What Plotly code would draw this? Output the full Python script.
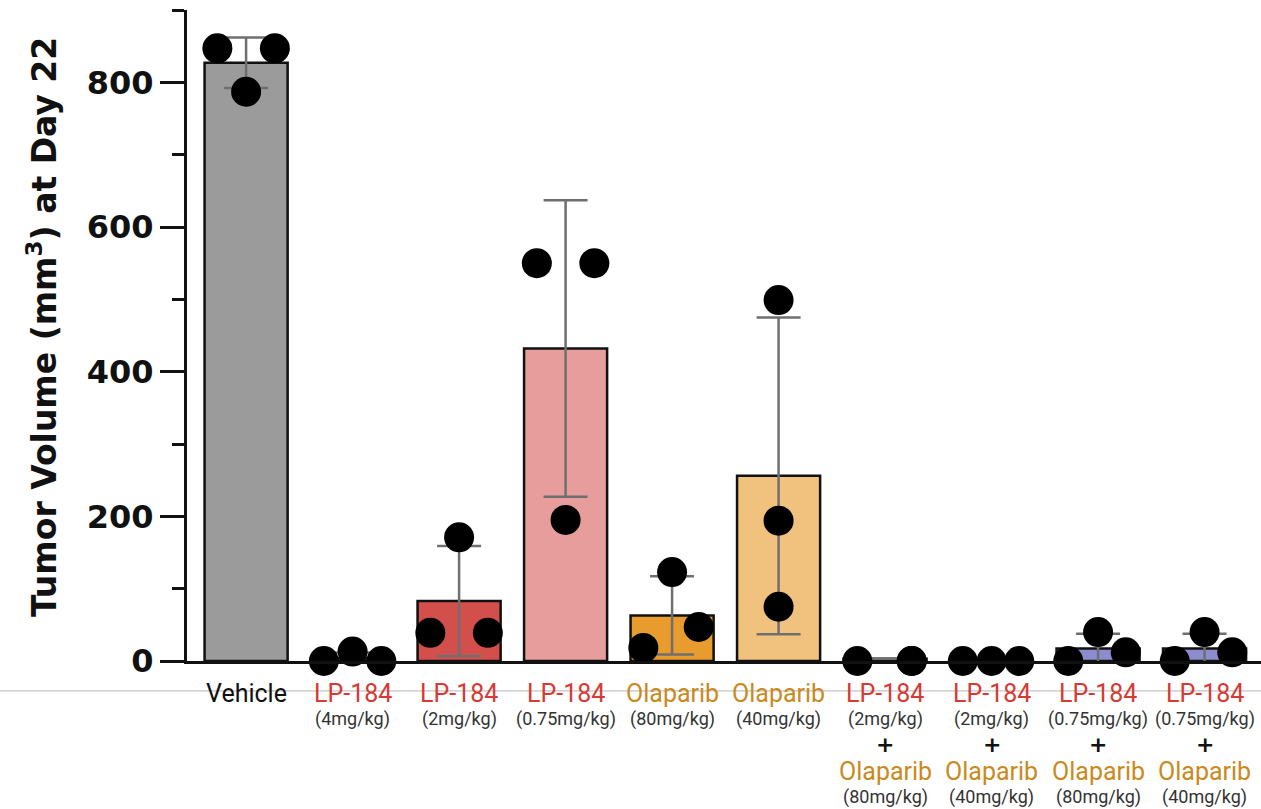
import numpy as np
import plotly.graph_objects as go

# Group names, doses and colours
drug1 = ["Vehicle", "LP-184", "LP-184", "LP-184", "Olaparib", "Olaparib",
         "LP-184", "LP-184", "LP-184", "LP-184"]
dose1 = ["", "(4mg/kg)", "(2mg/kg)", "(0.75mg/kg)", "(80mg/kg)", "(40mg/kg)",
         "(2mg/kg)", "(2mg/kg)", "(0.75mg/kg)", "(0.75mg/kg)"]
drug2 = ["", "", "", "", "", "", "Olaparib", "Olaparib", "Olaparib", "Olaparib"]
dose2 = ["", "", "", "", "", "", "(80mg/kg)", "(40mg/kg)", "(80mg/kg)", "(40mg/kg)"]

# Mean tumour volume and SD per group (mm^3)
means = [827, 4.3, 83, 432, 63, 256, 3, 0, 17.3, 17.3]
sds = [35, 7.5, 76, 205, 54, 219, 0, 0, 20.5, 20.5]

# Individual animals per group
points = [
    [847, 847, 787],
    [0, 13, 0],
    [39, 171, 39],
    [550, 195, 550],
    [18, 123, 47],
    [499, 194, 75],
    [0, 0, 0],
    [0, 0, 0],
    [0, 40, 12],
    [0, 40, 12],
]
# horizontal spread of the dots inside each bar
spread = [
    [-0.27, 0.27, 0.0],
    [-0.27, 0.0, 0.27],
    [-0.27, 0.0, 0.27],
    [-0.27, 0.0, 0.27],
    [-0.27, 0.0, 0.25],
    [0.0, 0.0, 0.0],
    [-0.26, 0.25, 0.25],
    [-0.27, 0.0, 0.26],
    [-0.28, 0.0, 0.26],
    [-0.28, 0.0, 0.26],
]

bar_colors = ["#9b9b9b", "#b83a36", "#d34f4b", "#e69d9c", "#e89c2e", "#f1c27d",
              "#8c8ccf", "#8c8ccf", "#8c8ccf", "#8c8ccf"]
drug_color = {"Vehicle": "#111111", "LP-184": "#d63a34", "Olaparib": "#c98a1e"}

x = np.arange(len(means))

fig = go.Figure()
fig.add_trace(go.Bar(
    x=x, y=means, width=0.78,
    marker=dict(color=bar_colors, line=dict(color="#111111", width=2.5)),
    error_y=dict(type="data", array=sds, visible=True, color="#6f6f6f",
                 thickness=2.5, width=22),
    showlegend=False,
))

px_, py_ = [], []
for i, (vals, offs) in enumerate(zip(points, spread)):
    for v, o in zip(vals, offs):
        px_.append(i + o)
        py_.append(v)
fig.add_trace(go.Scatter(
    x=px_, y=py_, mode="markers",
    marker=dict(color="black", size=30, line=dict(width=0)),
    cliponaxis=False, showlegend=False,
))

# multi-line category labels under the axis
ann = []
def lab(i, text, shift, size, color, family="Roboto", bold=False):
    ann.append(dict(x=i, y=0, xref="x", yref="paper", text=text, showarrow=False,
                    xanchor="center", yanchor="middle", yshift=shift,
                    font=dict(family=family, size=size, color=color,
                              weight="bold" if bold else "normal")))

for i in range(len(means)):
    lab(i, drug1[i], -32, 25, drug_color[drug1[i]])
    if dose1[i]:
        lab(i, dose1[i], -58, 18, "#333333")
    if drug2[i]:
        lab(i, "+", -83, 22, "#111111", family="DejaVu Sans", bold=True)
        lab(i, drug2[i], -110, 25, drug_color[drug2[i]])
        lab(i, dose2[i], -136, 18, "#333333")

ann.append(dict(x=0, y=0.513, xref="paper", yref="paper", xshift=-145,
                text="Tumor Volume (mm<sup>3</sup>) at Day 22", textangle=-90,
                showarrow=False, xanchor="center", yanchor="middle",
                font=dict(family="DejaVu Sans", size=33, color="#111111", weight="bold")))

fig.update_layout(
    width=1261, height=809,
    margin=dict(l=187, r=0, t=10, b=148),
    paper_bgcolor="white", plot_bgcolor="white",
    annotations=ann,
    bargap=0.22,
    shapes=[dict(type="line", xref="paper", yref="paper", x0=-0.2, x1=1.0,
                 y0=-0.046, y1=-0.046, line=dict(color="#c4c4c4", width=1.2),
                 layer="below")],
)
fig.update_xaxes(range=[-0.555, 9.53], showticklabels=False, ticks="",
                 showline=True, linecolor="#111111", linewidth=2.5,
                 showgrid=False, zeroline=False)
fig.update_yaxes(range=[0, 900], tickvals=[0, 200, 400, 600, 800],
                 ticks="outside", ticklen=24, tickwidth=3, tickcolor="#111111",
                 minor=dict(tickvals=[100, 300, 500, 700, 900], ticks="outside",
                            ticklen=12, tickwidth=3, tickcolor="#111111"),
                 showline=True, linecolor="#111111", linewidth=3,
                 showgrid=False, zeroline=False,
                 tickfont=dict(family="DejaVu Sans", size=32, color="#111111",
                               weight="bold"))

fig.write_html("out.html")
